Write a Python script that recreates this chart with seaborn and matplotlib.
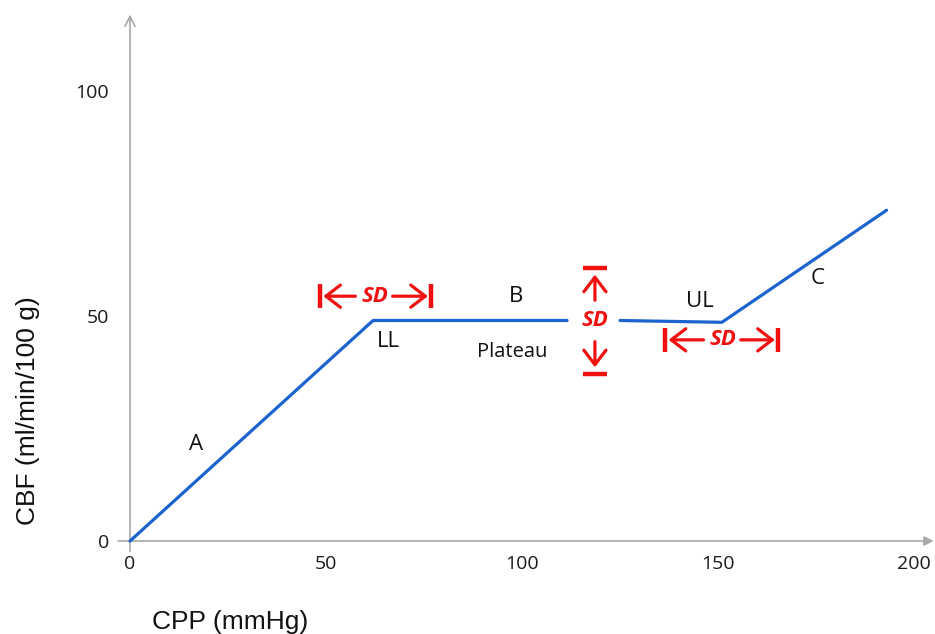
import numpy as np
import pandas as pd
import matplotlib
matplotlib.use("Agg")
import matplotlib.pyplot as plt
import seaborn as sns

# Autoregulation curve: CBF vs CPP, plateau broken where the SD marker sits
cpp = [0, 62, 111.5, 125, 151, 193]
cbf = [0, 49, 49, 49, 48.6, 73.5]
segment = [0, 0, 0, 1, 1, 1]

x_ticks = [0, 50, 100, 150, 200]
y_ticks = [0, 50, 100]

region_labels = ["A", "LL", "B", "Plateau", "UL", "C"]
region_x = [16.8, 66.0, 98.5, 97.4, 145.4, 175.5]
region_y = [21.5, 44.4, 54.3, 42.0, 53.2, 58.3]

df = pd.DataFrame({"CPP": cpp, "CBF": cbf, "seg": segment})

sns.set_style("white")
plt.rcParams["font.family"] = ["Liberation Sans", "DejaVu Sans"]

W, H = 935, 634
fig = plt.figure(figsize=(W / 100, H / 100), dpi=100)
x0, x1 = 0, 205
y0, y1 = 0, 117
ax = fig.add_axes([130 / W, (H - 541) / H, (x1 - x0) * 3.92 / W, (y1 - y0) * 4.5 / H])
ax.set_xlim(x0, x1)
ax.set_ylim(y0, y1)

blue = "#1b63cf"
red = "#f01010"
grey = "#a8a8a8"
label_font = ["Open Sans", "DejaVu Sans"]

sns.lineplot(data=df, x="CPP", y="CBF", units="seg", estimator=None,
             color=blue, lw=2.3, ax=ax, clip_on=False)

for s in ax.spines.values():
    s.set_visible(False)

# Axis lines with arrowheads
ax.annotate("", xy=(x1, 0), xytext=(-3, 0), xycoords="data",
            arrowprops=dict(arrowstyle="-|>", color=grey, lw=1.2,
                            mutation_scale=14, shrinkA=0, shrinkB=0),
            annotation_clip=False, zorder=0)
ax.annotate("", xy=(0, y1), xytext=(0, -2.3), xycoords="data",
            arrowprops=dict(arrowstyle="->", color=grey, lw=1.2,
                            mutation_scale=18, shrinkA=0, shrinkB=0),
            annotation_clip=False, zorder=0)

ax.set_xticks(x_ticks)
ax.set_yticks(y_ticks)
ax.tick_params(axis="both", length=0, labelsize=14, colors="#1a1a1a")
ax.tick_params(axis="x", pad=10)
ax.tick_params(axis="y", pad=15)
for t in ax.get_xticklabels() + ax.get_yticklabels():
    t.set_family(label_font)
ax.set_xlabel("")
ax.set_ylabel("")

fig.text(152 / W, 1 - 622 / H, "CPP (mmHg)", fontsize=19, ha="left", va="center",
         color="#111111")
fig.text(28 / W, 1 - 411 / H, "CBF (ml/min/100 g)", fontsize=19, rotation=90,
         ha="center", va="center", color="#111111")

for lab, lx, ly in zip(region_labels, region_x, region_y):
    fs = 14.5 if lab == "Plateau" else 16
    ax.text(lx, ly, lab, ha="center", va="center", fontsize=fs,
            family=label_font, color="#111111")

arrow_kw = dict(arrowstyle="->,head_length=0.55,head_width=0.42", color=red,
                lw=2.3, mutation_scale=19, shrinkA=0, shrinkB=0)
sd_kw = dict(ha="center", va="center", fontsize=16, color=red,
             fontweight="bold", fontstyle="italic", family=label_font)


def h_bracket(xl, xr, yc, xt, half=2.6):
    ax.plot([xl, xl], [yc - half, yc + half], color=red, lw=3.2, solid_capstyle="butt")
    ax.plot([xr, xr], [yc - half, yc + half], color=red, lw=3.2, solid_capstyle="butt")
    ax.annotate("", xy=(xl + 0.8, yc), xytext=(xt - 5.0, yc), arrowprops=arrow_kw)
    ax.annotate("", xy=(xr - 0.8, yc), xytext=(xt + 4.5, yc), arrowprops=arrow_kw)
    ax.text(xt, yc, "SD", **sd_kw)


h_bracket(48.5, 76.8, 54.4, 62.5)
h_bracket(136.6, 165.3, 44.7, 151.3)

# Vertical SD marker across the plateau
xv, yt, yb, yc = 118.6, 60.7, 37.1, 48.9
ax.plot([xv - 3.0, xv + 3.0], [yt, yt], color=red, lw=3.2, solid_capstyle="butt")
ax.plot([xv - 3.0, xv + 3.0], [yb, yb], color=red, lw=3.2, solid_capstyle="butt")
ax.annotate("", xy=(xv, yt - 1.5), xytext=(xv, yc + 4.6), arrowprops=arrow_kw)
ax.annotate("", xy=(xv, yb + 1.5), xytext=(xv, yc - 4.6), arrowprops=arrow_kw)
ax.text(xv, yc, "SD", **sd_kw)

fig.savefig("out.png", dpi=100)
